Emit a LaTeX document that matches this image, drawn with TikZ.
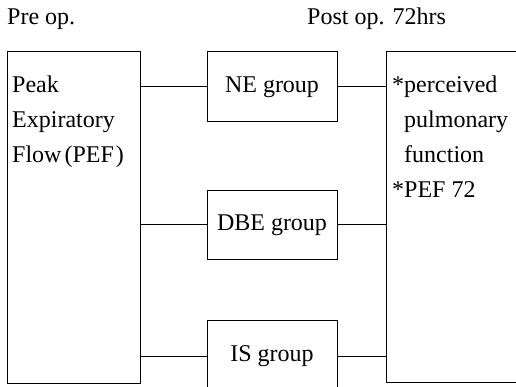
\documentclass[tikz,border=0pt]{standalone}
\usepackage{fontspec}
\setmainfont{Liberation Serif}
\begin{document}
\begin{tikzpicture}[x=1pt,y=-1pt,
  box/.style={draw,line width=1pt,inner sep=0pt,minimum width=#1},
  box/.default=130pt,
  txt/.style={anchor=base west,inner sep=0pt,font=\fontsize{24}{35}\selectfont},
  conn/.style={line width=1pt}]
\useasboundingbox (0,0) rectangle (516,387);
\clip (0,0) rectangle (516,387);
\node[txt] (pre) at (7,25) {Pre op.};
\node[txt] (post) at (307,25) {Post op. 72hrs};
% boxes
\node[box=133pt,minimum height=331pt] (L) at (73.5,217.5) {};
\node[box,minimum height=70pt] (NE) at (272,87) {};
\node[box,minimum height=69pt] (DBE) at (272,225) {};
\node[box,minimum height=72pt] (IS) at (272,356) {};
\node[box=150pt,minimum height=330pt] (R) at (461,217) {};
% texts
\node[txt] (t1) at (12,93) {Peak};
\node[txt] (t2) at (12,128) {Expiratory};
\node[txt] (t3) at (12,163) {Flow\kern3pt(PEF\kern2pt)};
\node[txt,anchor=center] (tne) at (NE.center) {NE group};
\node[txt,anchor=center] (tdbe) at (DBE.center) {DBE group};
\node[txt,anchor=center] (tis) at (IS.center) {IS group};
\node[txt] (r1) at (392,93) {*perceived};
\node[txt] (r2) at (404,128) {pulmonary};
\node[txt] (r3) at (404,163) {function};
\node[txt] (r4) at (392,198) {*PEF 72};
% connectors
\draw[conn] (L.east |- NE.west) -- (NE.west);
\draw[conn] (L.east |- DBE.west) -- (DBE.west);
\draw[conn] (L.east |- IS.west) -- (IS.west);
\draw[conn] (NE.east) -- (R.west |- NE.east);
\draw[conn] (DBE.east) -- (R.west |- DBE.east);
\draw[conn] (IS.east) -- (R.west |- IS.east);
\end{tikzpicture}
\end{document}
